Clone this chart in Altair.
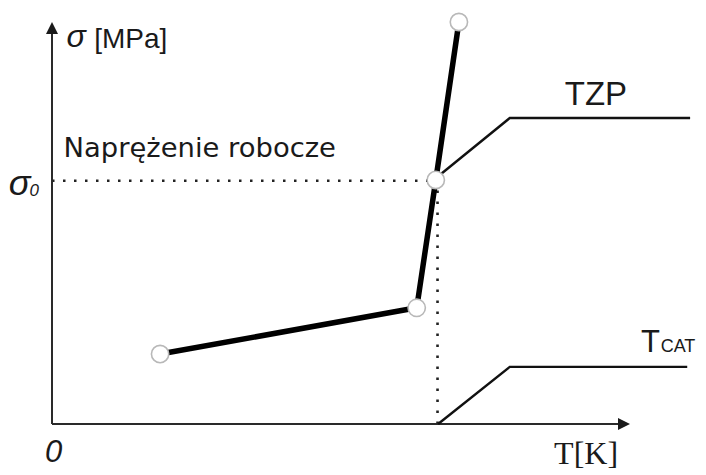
import altair as alt
import pandas as pd

# ---- data (arbitrary units: T axis 0..100, sigma axis 0..100) ----
curve_T = [18.7, 63.1, 66.4, 70.4]
curve_sigma = [17.4, 28.9, 60.7, 100.0]

sigma0 = 60.5
T_at_sigma0 = 66.7

tzp_T = [67.3, 79.2, 110.4]
tzp_sigma = [62.2, 76.1, 76.1]

tcat_T = [66.8, 79.2, 109.9]
tcat_sigma = [0.0, 14.2, 14.2]

axis_T_end = 100.0
axis_sigma_end = 100.0

W, H = 690, 464
xdom = [-7.6125, 111.765]
ydom = [-11.94, 103.48]

xs = alt.Scale(domain=xdom, nice=False, zero=False)
ys = alt.Scale(domain=ydom, nice=False, zero=False)
X = lambda f: alt.X(f, type="quantitative", scale=xs, axis=None)
Y = lambda f: alt.Y(f, type="quantitative", scale=ys, axis=None)

# axes
axes_df = pd.DataFrame({
    "x": [0.0, 0.0], "y": [0.0, 0.0],
    "x2": [axis_T_end - 1.5, 0.0], "y2": [0.0, axis_sigma_end - 2.0],
})
axes = alt.Chart(axes_df).mark_rule(color="#2a2a2a", strokeWidth=2).encode(
    x=X("x"), y=Y("y"), x2="x2", y2="y2")

arrow_up = alt.Chart(pd.DataFrame({"x": [0.0], "y": [axis_sigma_end]})).mark_point(
    shape="M0,0L0.5,1L-0.5,1Z", size=576, filled=True, color="#1a1a1a", opacity=1
).encode(x=X("x"), y=Y("y"))
arrow_right = alt.Chart(pd.DataFrame({"x": [axis_T_end], "y": [0.0]})).mark_point(
    shape="M0,0L-1,-0.5L-1,0.5Z", size=576, filled=True, color="#1a1a1a", opacity=1
).encode(x=X("x"), y=Y("y"))

# dotted guides
dots_df = pd.DataFrame({
    "x": [0.0, T_at_sigma0], "y": [sigma0, 0.0],
    "x2": [curve_T[2], T_at_sigma0], "y2": [sigma0, sigma0],
})
dots = alt.Chart(dots_df).mark_rule(color="#222", strokeWidth=2.6, strokeDash=[2.5, 8.5]).encode(
    x=X("x"), y=Y("y"), x2="x2", y2="y2")

# TZP and TCAT lines
thin_df = pd.DataFrame({
    "x": tzp_T + tcat_T,
    "y": tzp_sigma + tcat_sigma,
    "g": ["TZP"] * 3 + ["TCAT"] * 3,
    "o": [0, 1, 2, 0, 1, 2],
})
thin = alt.Chart(thin_df).mark_line(color="#111", strokeWidth=2.4).encode(
    x=X("x"), y=Y("y"), detail="g:N", order="o:Q")

# main thick curve
curve_df = pd.DataFrame({"x": curve_T, "y": curve_sigma, "o": list(range(len(curve_T)))})
curve = alt.Chart(curve_df).mark_line(color="#000", strokeWidth=5.5, strokeJoin="round").encode(
    x=X("x"), y=Y("y"), order="o:Q")
circles = alt.Chart(curve_df).mark_point(
    shape="circle", size=300, filled=True, fill="white", stroke="#b8b8b8", strokeWidth=1.6, opacity=1
).encode(x=X("x"), y=Y("y"))

# texts
def txt(df, **kw):
    return alt.Chart(pd.DataFrame(df)).mark_text(baseline="alphabetic", color="#1a1a1a", **kw).encode(
        x=X("x"), y=Y("y"), text="t:N")

t_sigma_top = txt({"x": [2.5], "y": [93.8], "t": ["σ"]}, align="left", font="Liberation Sans",
                  fontSize=32, fontStyle="italic")
t_mpa = txt({"x": [7.3], "y": [93.6], "t": ["[MPa]"]}, align="left", font="Liberation Sans", fontSize=28)
t_napr = txt({"x": [2.0], "y": [66.4], "t": ["Naprężenie robocze"]}, align="left", font="DejaVu Sans",
             fontSize=27.4)
t_sig0 = txt({"x": [-7.5], "y": [57.0], "t": ["σ"]}, align="left", font="Liberation Sans",
             fontSize=36, fontStyle="italic")
t_sig0_sub = txt({"x": [-3.9], "y": [56.7], "t": ["0"]}, align="left", font="Liberation Sans",
                 fontSize=17, fontStyle="italic")
t_zero = txt({"x": [0.3], "y": [-9.5], "t": ["0"]}, align="center", font="Liberation Sans",
             fontSize=31, fontStyle="italic")
t_tzp = txt({"x": [94.1], "y": [79.3], "t": ["TZP"]}, align="center", font="Liberation Sans", fontSize=33)
t_tcat_T = txt({"x": [101.9], "y": [17.8], "t": ["T"]}, align="left", font="Liberation Sans", fontSize=31)
t_tcat_sub = txt({"x": [105.3], "y": [17.8], "t": ["CAT"]}, align="left", font="Liberation Sans", fontSize=18)
t_tk = txt({"x": [92.4], "y": [-9.9], "t": ["T[K]"]}, align="center", font="Liberation Serif", fontSize=32)

chart = alt.layer(
    dots, axes, arrow_up, arrow_right, thin, curve, circles,
    t_sigma_top, t_mpa, t_napr, t_sig0, t_sig0_sub, t_zero, t_tzp, t_tcat_T, t_tcat_sub, t_tk,
).properties(
    width=W, height=H, autosize=alt.AutoSizeParams(type="none"), padding=0,
    background="white",
).configure_view(stroke=None)

chart.save("out.html", embed_options={"renderer": "svg", "actions": False})
